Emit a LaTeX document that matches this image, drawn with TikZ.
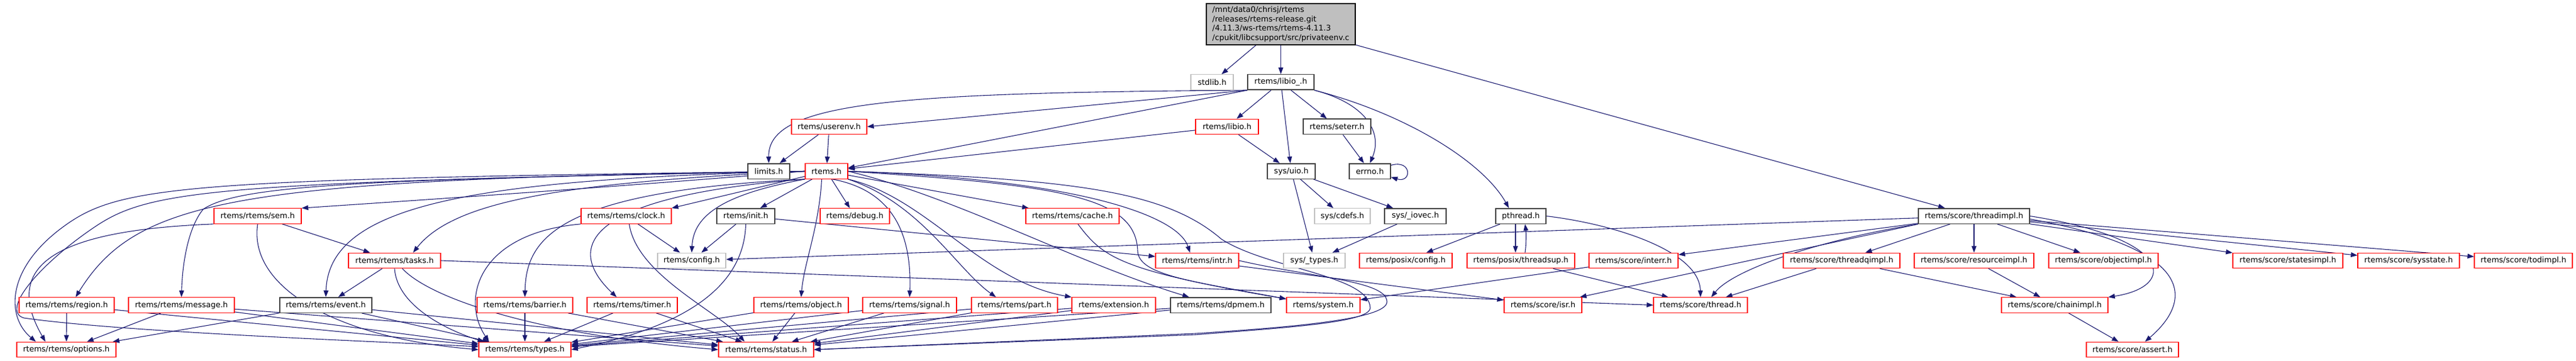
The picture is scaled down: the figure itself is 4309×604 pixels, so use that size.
\documentclass[tikz,border=0pt]{standalone}
\usepackage{fontspec}
\newfontfamily\dej{DejaVu Sans}
\usetikzlibrary{arrows.meta}
\definecolor{edgec}{HTML}{191970}
\definecolor{redb}{HTML}{FF0000}
\definecolor{grayb}{HTML}{BFBFBF}
\definecolor{blackb}{HTML}{404040}
\definecolor{topfill}{HTML}{BFBFBF}
\pgfdeclarelayer{bg}
\pgfsetlayers{bg,main}
\begin{document}
\begin{tikzpicture}[x=1pt,y=-1pt,
  nbox/.style={draw, fill=white, rectangle, inner sep=0pt, minimum height=25.5pt,
    font=\dej\fontsize{13}{15.5}\selectfont, line width=1.2pt},
  rb/.style={nbox, draw=redb},
  kb/.style={nbox, draw=blackb, line width=1.5pt},
  gb/.style={nbox, draw=grayb},
  edg/.style={draw=edgec, line width=1.1pt, -{Triangle[length=11pt,width=8pt]}}]
\useasboundingbox (0,0) rectangle (4309,604);
% row 1
\node[nbox, fill=topfill, draw=black, minimum width=249pt, minimum height=69pt, align=left] (top) at (2142.5,40.5)
  {/mnt/data0/chrisj/rtems\\/releases/rtems-release.git\\/4.11.3/ws-rtems/rtems-4.11.3\\/cpukit/libcsupport/src/privateenv.c};
% row 2
\node[gb, minimum width=71pt] (stdlib) at (2027.5,137.5) {stdlib.h};
\node[kb, minimum width=111pt] (libiou) at (2142.5,137.5) {rtems/libio\_.h};
% row 3
\node[rb, minimum width=126pt] (userenv) at (1387,212) {rtems/userenv.h};
\node[rb, minimum width=105pt] (libioh) at (2052.5,212) {rtems/libio.h};
\node[kb, minimum width=113pt] (seterr) at (2236.5,212) {rtems/seterr.h};
% row 4
\node[kb, minimum width=70pt] (limits) at (1286,286.5) {limits.h};
\node[rb, minimum width=71pt] (rtemsh) at (1382.5,286.5) {rtems.h};
\node[kb, minimum width=80pt] (uio) at (2160,286.5) {sys/uio.h};
\node[kb, minimum width=69pt] (errno) at (2291.5,286.5) {errno.h};
% row 5
\node[rb, minimum width=146pt] (sem) at (431,361.5) {rtems/rtems/sem.h};
\node[rb, minimum width=151pt] (clock) at (1047.5,361.5) {rtems/rtems/clock.h};
\node[kb, minimum width=97pt] (init) at (1247.5,361.5) {rtems/init.h};
\node[rb, minimum width=116pt] (debug) at (1430,361.5) {rtems/debug.h};
\node[rb, minimum width=156pt] (cache) at (1794,361.5) {rtems/rtems/cache.h};
\node[gb, minimum width=93pt] (cdefs) at (2245.5,361.5) {sys/cdefs.h};
\node[kb, minimum width=103pt] (iovec) at (2367.5,361.5) {sys/\_iovec.h};
\node[kb, minimum width=84pt] (pthread) at (2544,361.5) {pthread.h};
\node[kb, minimum width=186pt] (threadimpl) at (3302,361.5) {rtems/score/threadimpl.h};
% row 6
\node[rb, minimum width=154pt] (tasks) at (660,436) {rtems/rtems/tasks.h};
\node[gb, minimum width=114pt] (config) at (1157,436) {rtems/config.h};
\node[rb, minimum width=139pt] (intr) at (2002.5,436) {rtems/rtems/intr.h};
\node[gb, minimum width=103pt] (systypes) at (2198.5,436) {sys/\_types.h};
\node[rb, minimum width=155pt] (pconfig) at (2351.5,436) {rtems/posix/config.h};
\node[rb, minimum width=180pt] (threadsup) at (2544,436) {rtems/posix/threadsup.h};
\node[rb, minimum width=149pt] (interr) at (2732.5,436) {rtems/score/interr.h};
\node[rb, minimum width=195pt] (threadq) at (3080.5,436) {rtems/score/threadqimpl.h};
\node[rb, minimum width=200pt] (resource) at (3302,436) {rtems/score/resourceimpl.h};
\node[rb, minimum width=183pt] (objectimpl) at (3518.5,436) {rtems/score/objectimpl.h};
\node[rb, minimum width=184pt] (states) at (3827,436) {rtems/score/statesimpl.h};
\node[rb, minimum width=170pt] (sysstate) at (4029,436) {rtems/score/sysstate.h};
\node[rb, minimum width=164pt] (todimpl) at (4221,436) {rtems/score/todimpl.h};
% row 7
\node[rb, minimum width=159pt] (region) at (111.5,510.5) {rtems/rtems/region.h};
\node[rb, minimum width=177pt] (message) at (303.5,510.5) {rtems/rtems/message.h};
\node[kb, minimum width=154pt] (event) at (545,510.5) {rtems/rtems/event.h};
\node[rb, minimum width=160pt] (barrier) at (878,510.5) {rtems/rtems/barrier.h};
\node[rb, minimum width=151pt] (timer) at (1057.5,510.5) {rtems/rtems/timer.h};
\node[rb, minimum width=158pt] (object) at (1340,510.5) {rtems/rtems/object.h};
\node[rb, minimum width=157pt] (signal) at (1521.5,510.5) {rtems/rtems/signal.h};
\node[rb, minimum width=144pt] (part) at (1697,510.5) {rtems/rtems/part.h};
\node[rb, minimum width=140pt] (extension) at (1863,510.5) {rtems/extension.h};
\node[kb, minimum width=168pt] (dpmem) at (2042,510.5) {rtems/rtems/dpmem.h};
\node[rb, minimum width=123pt] (system) at (2213.5,510.5) {rtems/system.h};
\node[rb, minimum width=130pt] (isr) at (2581,510.5) {rtems/score/isr.h};
\node[rb, minimum width=157pt] (thread) at (2844.5,510.5) {rtems/score/thread.h};
\node[rb, minimum width=178pt] (chain) at (3437,510.5) {rtems/score/chainimpl.h};
% row 8
\node[rb, minimum width=166pt] (options) at (111,585) {rtems/rtems/options.h};
\node[rb, minimum width=154pt] (types) at (878,585) {rtems/rtems/types.h};
\node[rb, minimum width=159pt] (status) at (1281.5,585) {rtems/rtems/status.h};
\node[rb, minimum width=154pt] (assert) at (3567,585) {rtems/score/assert.h};

\begin{pgfonlayer}{bg}
% top file
\draw[edg] (top) -- (stdlib);
\draw[edg] (top) -- (libiou);
\draw[edg] (top) -- (threadimpl);
% libio_.h
\draw[edg] (libiou.south west) .. controls (1500,155) and (1284,170) .. (limits.north);
\draw[edg] (libiou.south west) -- (userenv.east);
\draw[edg] (libiou.south west) -- ([yshift=5.5pt]rtemsh.east);
\draw[edg] (libiou) -- (libioh);
\draw[edg] (libiou) -- (uio);
\draw[edg] (libiou) -- (seterr);
\draw[edg] (libiou.south east) .. controls (2290,175) and (2312,225) .. (errno.north);
\draw[edg] (libiou.south east) .. controls (2350,190) and (2480,270) .. ([xshift=-20pt]pthread.north);
\draw[edg] (libioh) -- (rtemsh);
\draw[edg] (libioh) -- (uio);
\draw[edg] (seterr) -- (errno);
\draw[edg] ([yshift=10pt]errno.east) .. controls (2362,266) and (2362,307) .. ([yshift=-10pt]errno.east);
\draw[edg] (uio) -- (cdefs);
\draw[edg] (uio) -- (iovec);
\draw[edg] (uio) -- (systypes);
\draw[edg] (iovec) -- (systypes);
\draw[edg] (pthread) -- (pconfig);
\draw[edg] ([xshift=-9pt]pthread.south) -- ([xshift=-9pt]threadsup.north);
\draw[edg] ([xshift=7pt]threadsup.north) .. controls (2553,410) and (2553,390) .. ([xshift=7pt]pthread.south);
\draw[edg] (pthread.east) .. controls (2700,375) and (2843,420) .. (thread.north);
\draw[edg] (threadsup) -- (thread);
% userenv
\draw[edg] (userenv) -- (limits);
\draw[edg] (userenv) -- (rtemsh);
% rtems.h fan-out
\draw[edg] (rtemsh) -- (clock.north east);
\draw[edg] (rtemsh) -- (init);
\draw[edg] (rtemsh) -- (debug);
\draw[edg] (rtemsh) -- (cache);
\draw[edg] (rtemsh.south west) .. controls (1210,325) and (1160,360) .. (config.north);
\draw[edg] (rtemsh.west) .. controls (1000,315) and (700,335) .. (sem.north east);
\draw[edg] (rtemsh.west) .. controls (950,305) and (760,335) .. ([xshift=31pt]tasks.north);
\draw[edg] (rtemsh.west) .. controls (800,300) and (550,340) .. (event.north);
\draw[edg] (rtemsh.west) .. controls (400,300) and (230,330) .. ([xshift=15pt]region.north);
\draw[edg] (rtemsh.west) .. controls (600,300) and (400,310) .. (340,350) .. controls (315,380) and (305,440) .. (message.north);
\draw[edg] (rtemsh.west) .. controls (300,300) and (200,310) .. (105,380) .. controls (10,450) and (10,530) .. ([xshift=-51pt]options.north);
\draw[edg] (rtemsh.west) .. controls (350,305) and (250,318) .. (158,380) .. controls (66,442) and (0,520) .. (40,532) .. controls (200,555) and (600,570) .. ([yshift=5pt]types.west);
\draw[edg] (rtemsh.south west) .. controls (930,320) and (880,400) .. (barrier.north);
\draw[edg] (rtemsh.south west) .. controls (960,330) and (950,420) .. ([xshift=-26pt]timer.north);
\draw[edg] ([xshift=-8pt]rtemsh.south) .. controls (1370,380) and (1345,440) .. (object.north);
\draw[edg] ([xshift=10pt]rtemsh.south) .. controls (1500,320) and (1525,400) .. (signal.north);
\draw[edg] (rtemsh.south east) .. controls (1540,340) and (1600,450) .. ([xshift=-31pt]part.north);
\draw[edg] (rtemsh.south east) .. controls (1550,330) and (1640,470) .. (extension.north west);
\draw[edg] (rtemsh.east) .. controls (1600,330) and (1800,440) .. ([xshift=-53pt]dpmem.north);
\draw[edg] (rtemsh.east) .. controls (1800,300) and (1970,360) .. ([xshift=-12pt]intr.north);
\draw[edg] (rtemsh.east) .. controls (1780,310) and (1900,330) .. (1903,420) .. controls (1905,460) and (1990,470) .. ([yshift=-3pt]system.north west);
\draw[edg] (rtemsh.east) .. controls (1800,300) and (1950,320) .. (2043,400) .. controls (2120,450) and (2290,460) .. (2292,515) .. controls (2292,540) and (2150,548) .. (2000,560) -- (status.east);
% clock, init
\draw[edg] (clock) -- (config);
\draw[edg] (clock.south west) .. controls (800,390) and (770,500) .. ([xshift=-60pt]types.north);
\draw[edg] ([xshift=5pt]clock.south) .. controls (1065,460) and (1200,520) .. ([xshift=-36pt]status.north);
\draw[edg] (init) -- (config);
\draw[edg] (init) -- (intr);
\draw[edg] (init.south) .. controls (1245,460) and (1180,540) .. (types.east);
% sem, tasks
\draw[edg] (sem) -- (tasks);
\draw[edg] (sem.south west) .. controls (100,385) and (0,440) .. ([xshift=-35pt]options.north);
\draw[edg] (sem.south) .. controls (415,480) and (560,565) .. (types.west);
\draw[edg] (tasks) -- (event);
\draw[edg] (tasks.south) .. controls (665,520) and (770,560) .. ([xshift=-68pt]types.north);
\draw[edg] ([xshift=13pt]tasks.south) .. controls (720,500) and (900,560) .. (status.west);
\draw[edg] (tasks.east) -- (thread.west);
% row 7 to row 8
\draw[edg] (region) -- (options);
\draw[edg] (region) -- (types);
\draw[edg] (message) -- (options);
\draw[edg] (message) -- (types);
\draw[edg] (message) -- (status);
\draw[edg] (event) -- (options);
\draw[edg] (event) -- (types);
\draw[edg] (event) -- (status);
\draw[edg] (barrier) -- (types);
\draw[edg] (barrier) -- (status);
\draw[edg] (timer) -- (types);
\draw[edg] (timer) -- (status);
\draw[edg] (object) -- (types);
\draw[edg] (object) -- (status);
\draw[edg] (signal) -- (types);
\draw[edg] (signal) -- (status);
\draw[edg] (part) -- (types);
\draw[edg] (part) -- (status);
\draw[edg] (extension) -- (types);
\draw[edg] (extension) -- (status);
\draw[edg] (dpmem) -- (types);
\draw[edg] (dpmem) -- (status);
% cache, intr, interr
\draw[edg] ([xshift=9pt]cache.south) .. controls (1845,430) and (1870,452) .. ([yshift=-3pt]system.north west);
\draw[edg] (intr) -- (isr);
\draw[edg] (intr.east) .. controls (2200,465) and (2320,470) .. (2320,505) .. controls (2320,535) and (2150,548) .. (2000,558) -- (status.east);
\draw[edg] (interr) -- (system);
% threadimpl
\draw[edg] (threadimpl) -- (config);
\draw[edg] (threadimpl) -- (interr);
\draw[edg] (threadimpl.south west) -- (isr);
\draw[edg] (threadimpl.south west) .. controls (3050,400) and (2900,450) .. ([xshift=18pt]thread.north);
\draw[edg] (threadimpl) -- (threadq);
\draw[edg] (threadimpl) -- (resource);
\draw[edg] (threadimpl) -- (objectimpl);
\draw[edg] (threadimpl) -- (states);
\draw[edg] (threadimpl) -- (sysstate);
\draw[edg] (threadimpl) -- (todimpl);
\draw[edg] (threadimpl.east) .. controls (3640,400) and (3640,480) .. (chain.north east);
\draw[edg] ([yshift=-5pt]threadimpl.east) .. controls (3690,420) and (3660,510) .. ([xshift=21pt]assert.north);
\draw[edg] (threadq) -- (chain);
\draw[edg] (threadq) -- (thread);
\draw[edg] (resource) -- (chain);
\draw[edg] (chain) -- (assert);
\end{pgfonlayer}
\end{tikzpicture}
\end{document}
